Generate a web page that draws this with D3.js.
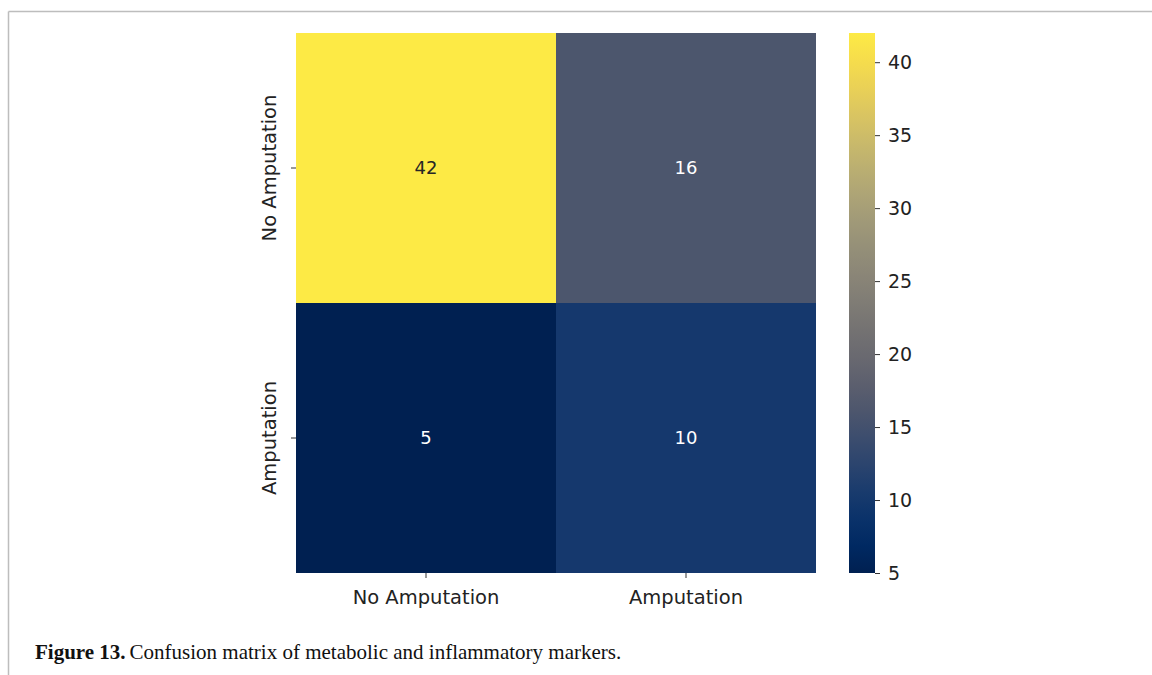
<!DOCTYPE html>
<html>
<head>
<meta charset="utf-8">
<script src="https://cdn.jsdelivr.net/npm/d3@7"></script>
<style>
  body { margin: 0; background: #fff; }
  svg text { font-family: "DejaVu Sans", sans-serif; }
</style>
</head>
<body>
<div id="chart"></div>
<script>
// data
var labels = ["No Amputation", "Amputation"];
var matrix = [[42, 16], [5, 10]];
var barTicks = [5, 10, 15, 20, 25, 30, 35, 40];
var caption = "Confusion matrix of metabolic and inflammatory markers.";

var width = 1152, height = 675;

var svg = d3.select("#chart").append("svg")
  .attr("width", width)
  .attr("height", height);

// frame lines (top and left only)
svg.append("line").attr("x1", 8.5).attr("x2", width).attr("y1", 11.5).attr("y2", 11.5)
  .attr("stroke", "#bdbdbd").attr("stroke-width", 1.5);
svg.append("line").attr("x1", 8.5).attr("x2", 8.5).attr("y1", 11.5).attr("y2", height)
  .attr("stroke", "#bdbdbd").attr("stroke-width", 1.5);

// heatmap area
var hm = { left: 296, top: 33, width: 520, height: 540 };

var xScale = d3.scaleBand().domain(labels).range([hm.left, hm.left + hm.width]);
var yScale = d3.scaleBand().domain(labels).range([hm.top, hm.top + hm.height]);

var vmin = d3.min(matrix, function(r) { return d3.min(r); });
var vmax = d3.max(matrix, function(r) { return d3.max(r); });
var color = d3.scaleSequential(d3.interpolateCividis).domain([vmin, vmax]);

var cells = [];
matrix.forEach(function(row, i) {
  row.forEach(function(v, j) {
    cells.push({ row: labels[i], col: labels[j], value: v });
  });
});

svg.selectAll("rect.cell").data(cells).enter().append("rect")
  .attr("class", "cell")
  .attr("x", function(d) { return xScale(d.col); })
  .attr("y", function(d) { return yScale(d.row); })
  .attr("width", xScale.bandwidth())
  .attr("height", yScale.bandwidth())
  .attr("fill", function(d) { return color(d.value); });

svg.selectAll("text.annot").data(cells).enter().append("text")
  .attr("class", "annot")
  .attr("x", function(d) { return xScale(d.col) + xScale.bandwidth() / 2; })
  .attr("y", function(d) { return yScale(d.row) + yScale.bandwidth() / 2; })
  .attr("dy", "0.35em")
  .attr("text-anchor", "middle")
  .style("font-size", "18px")
  .attr("fill", function(d) { return (d.value - vmin) / (vmax - vmin) > 0.6 ? "#262626" : "#ffffff"; })
  .text(function(d) { return d.value; });

// axes
var xAxis = d3.axisBottom(xScale).tickSize(5).tickPadding(12);
var gx = svg.append("g")
  .attr("transform", "translate(0," + (hm.top + hm.height) + ")")
  .call(xAxis);
gx.select(".domain").remove();
gx.selectAll("text").style("font-size", "19.5px").attr("fill", "#222");
gx.selectAll("line").attr("stroke", "#333");

var yAxis = d3.axisLeft(yScale).tickSize(5).tickPadding(7);
var gy = svg.append("g")
  .attr("transform", "translate(" + hm.left + ",0)")
  .call(yAxis);
gy.select(".domain").remove();
gy.selectAll("line").attr("stroke", "#333");
gy.selectAll("text")
  .style("font-size", "19.5px")
  .attr("fill", "#222")
  .attr("text-anchor", "middle")
  .attr("x", 0).attr("dy", 0)
  .attr("transform", "translate(-20,0) rotate(-90)");

// colorbar
var cb = { left: 849, top: 33, width: 26, height: 540 };
var cbScale = d3.scaleLinear().domain([vmin, vmax]).range([cb.top + cb.height, cb.top]);

var defs = svg.append("defs");
var grad = defs.append("linearGradient").attr("id", "cbgrad")
  .attr("x1", "0%").attr("x2", "0%").attr("y1", "100%").attr("y2", "0%");
d3.range(0, 1.0001, 0.05).forEach(function(t) {
  grad.append("stop").attr("offset", (t * 100) + "%").attr("stop-color", d3.interpolateCividis(t));
});
svg.append("rect")
  .attr("x", cb.left).attr("y", cb.top)
  .attr("width", cb.width).attr("height", cb.height)
  .attr("fill", "url(#cbgrad)");

var cbAxis = d3.axisRight(cbScale).tickValues(barTicks).tickSize(5).tickPadding(8);
var gc = svg.append("g")
  .attr("transform", "translate(" + (cb.left + cb.width) + ",0)")
  .call(cbAxis);
gc.select(".domain").remove();
gc.selectAll("text").style("font-size", "19px").attr("fill", "#222");
gc.selectAll("line").attr("stroke", "#333");

// caption
var cap = svg.append("text")
  .attr("x", 35).attr("y", 659)
  .style("font-family", "'Liberation Serif', serif")
  .style("font-size", "21px")
  .attr("fill", "#111");
cap.append("tspan").style("font-weight", "bold").text("Figure 13.");
cap.append("tspan").attr("dx", 4).text(caption);
</script>
</body>
</html>
